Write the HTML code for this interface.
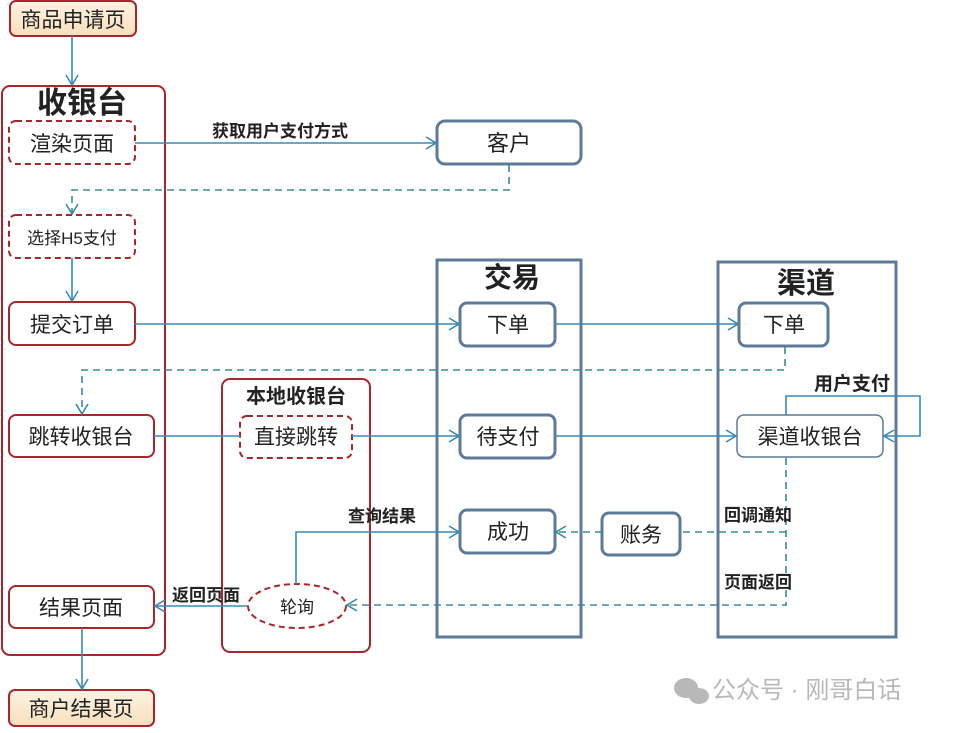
<!DOCTYPE html>
<html><head><meta charset="utf-8"><style>
html,body{margin:0;padding:0;background:#fff;}
svg text{font-family:"Liberation Sans","Noto Sans CJK SC",sans-serif;}
</style></head><body>
<svg width="954" height="728" viewBox="0 0 954 728" xmlns="http://www.w3.org/2000/svg">
<defs>
<marker id="a" markerWidth="12" markerHeight="14" refX="11" refY="7" orient="auto" markerUnits="userSpaceOnUse">
<path d="M1,1 L11,7 L1,13" fill="none" stroke="#3a8ab5" stroke-width="1.6"/></marker>
<marker id="d" markerWidth="12" markerHeight="14" refX="11" refY="7" orient="auto" markerUnits="userSpaceOnUse">
<path d="M1,1 L11,7 L1,13" fill="none" stroke="#3d8a96" stroke-width="1.6"/></marker>
<linearGradient id="pe" x1="0" y1="0" x2="0" y2="1"><stop offset="0" stop-color="#fdf3e2"/><stop offset="1" stop-color="#f8dfbd"/></linearGradient>
</defs>
<g fill="none" stroke-width="2">
<rect x="2" y="86" width="163" height="569" rx="8" stroke="#a8262c"/>
<rect x="222" y="379" width="148" height="273" rx="8" stroke="#a8262c"/>
<rect x="10" y="1" width="126" height="35" rx="6" stroke="#a8262c" fill="url(#pe)"/>
<rect x="9" y="690" width="145" height="36" rx="6" stroke="#a8262c" fill="url(#pe)"/>
<rect x="9" y="121" width="126" height="43" rx="7" stroke="#a8262c" stroke-dasharray="6,4"/>
<rect x="9" y="215" width="126" height="43" rx="7" stroke="#a8262c" stroke-dasharray="6,4"/>
<rect x="9" y="302" width="126" height="43" rx="7" stroke="#a8262c"/>
<rect x="9" y="415" width="145" height="42" rx="7" stroke="#a8262c"/>
<rect x="9" y="586" width="145" height="42" rx="7" stroke="#a8262c"/>
<rect x="240" y="416" width="112" height="42" rx="7" stroke="#a8262c" stroke-dasharray="6,4"/>
<ellipse cx="297" cy="606" rx="49" ry="22" stroke="#a8262c" stroke-dasharray="6,4"/>
<rect x="437" y="260" width="144" height="377" stroke="#5d7a99" stroke-width="3"/>
<rect x="718" y="262" width="178" height="375" stroke="#5d7a99" stroke-width="3"/>
<rect x="437" y="121" width="144" height="43" rx="8" stroke="#5d7a99" stroke-width="3"/>
<rect x="460" y="303" width="95" height="43" rx="7" stroke="#5d7a99" stroke-width="3" fill="#fff"/>
<rect x="460" y="415" width="95" height="43" rx="7" stroke="#5d7a99" stroke-width="3" fill="#fff"/>
<rect x="460" y="510" width="95" height="43" rx="7" stroke="#5d7a99" stroke-width="3" fill="#fff"/>
<rect x="739" y="303" width="89" height="43" rx="7" stroke="#5d7a99" stroke-width="3" fill="#fff"/>
<rect x="737" y="415" width="146" height="42" rx="7" stroke="#5d7a99" stroke-width="1.5" fill="#fff"/>
<rect x="602" y="513" width="78" height="42" rx="7" stroke="#5d7a99" stroke-width="3" fill="#fff"/>
</g>
<g fill="none" stroke="#3a8ab5" stroke-width="1.6">
<path d="M72 36 V85" marker-end="url(#a)"/>
<path d="M72 258 V301" marker-end="url(#a)"/>
<path d="M82 628 V689" marker-end="url(#a)"/>
<path d="M135 143 H436" marker-end="url(#a)"/>
<path d="M135 324 H459" marker-end="url(#a)"/>
<path d="M555 324 H738" marker-end="url(#a)"/>
<path d="M154 436 H240"/>
<path d="M352 436 H459" marker-end="url(#a)"/>
<path d="M555 436 H736" marker-end="url(#a)"/>
<path d="M786 415 V396 H920 V436 H884" marker-end="url(#a)"/>
<path d="M296 584 V532 H459" marker-end="url(#a)"/>
<path d="M247 606 H155" marker-end="url(#a)"/>
</g>
<g fill="none" stroke="#3d8a96" stroke-width="1.6" stroke-dasharray="7,5">
<path d="M509 165 V190 H72 V214" marker-end="url(#d)"/>
<path d="M785 347 V370 H82 V414" marker-end="url(#d)"/>
<path d="M786 458 V605 H347" marker-end="url(#d)"/>
<path d="M786 532 H680"/>
<path d="M602 532 H556" marker-end="url(#d)"/>
</g>
<g fill="#222" text-anchor="middle">
<text x="73" y="27" font-size="21">商品申请页</text>
<text x="82" y="113" font-size="30" font-weight="bold">收银台</text>
<text x="72" y="151" font-size="21">渲染页面</text>
<text x="72" y="244" font-size="17">选择H5支付</text>
<text x="72" y="332" font-size="21">提交订单</text>
<text x="81" y="444" font-size="21">跳转收银台</text>
<text x="81" y="615" font-size="21">结果页面</text>
<text x="81" y="716" font-size="21">商户结果页</text>
<text x="296" y="403" font-size="20" font-weight="bold">本地收银台</text>
<text x="296" y="444" font-size="21">直接跳转</text>
<text x="297" y="613" font-size="17">轮询</text>
<text x="509" y="151" font-size="22">客户</text>
<text x="512" y="287" font-size="28" font-weight="bold">交易</text>
<text x="806" y="293" font-size="29" font-weight="bold">渠道</text>
<text x="508" y="332" font-size="21">下单</text>
<text x="508" y="444" font-size="21">待支付</text>
<text x="508" y="539" font-size="21">成功</text>
<text x="784" y="332" font-size="21">下单</text>
<text x="810" y="444" font-size="21">渠道收银台</text>
<text x="641" y="542" font-size="21">账务</text>
<g font-weight="bold">
<text x="280" y="137" font-size="17">获取用户支付方式</text>
<text x="852" y="390" font-size="19">用户支付</text>
<text x="382" y="522" font-size="17">查询结果</text>
<text x="206" y="601" font-size="17">返回页面</text>
<text x="758" y="521" font-size="17">回调通知</text>
<text x="758" y="588" font-size="17">页面返回</text>
</g>
</g>
<g fill="#b8b8b8">
<ellipse cx="686" cy="688" rx="12" ry="10"/><ellipse cx="699" cy="696" rx="10" ry="8"/>
<text x="712" y="698" font-size="24">公众号 · 刚哥白话</text>
</g>
</svg>
</body></html>
